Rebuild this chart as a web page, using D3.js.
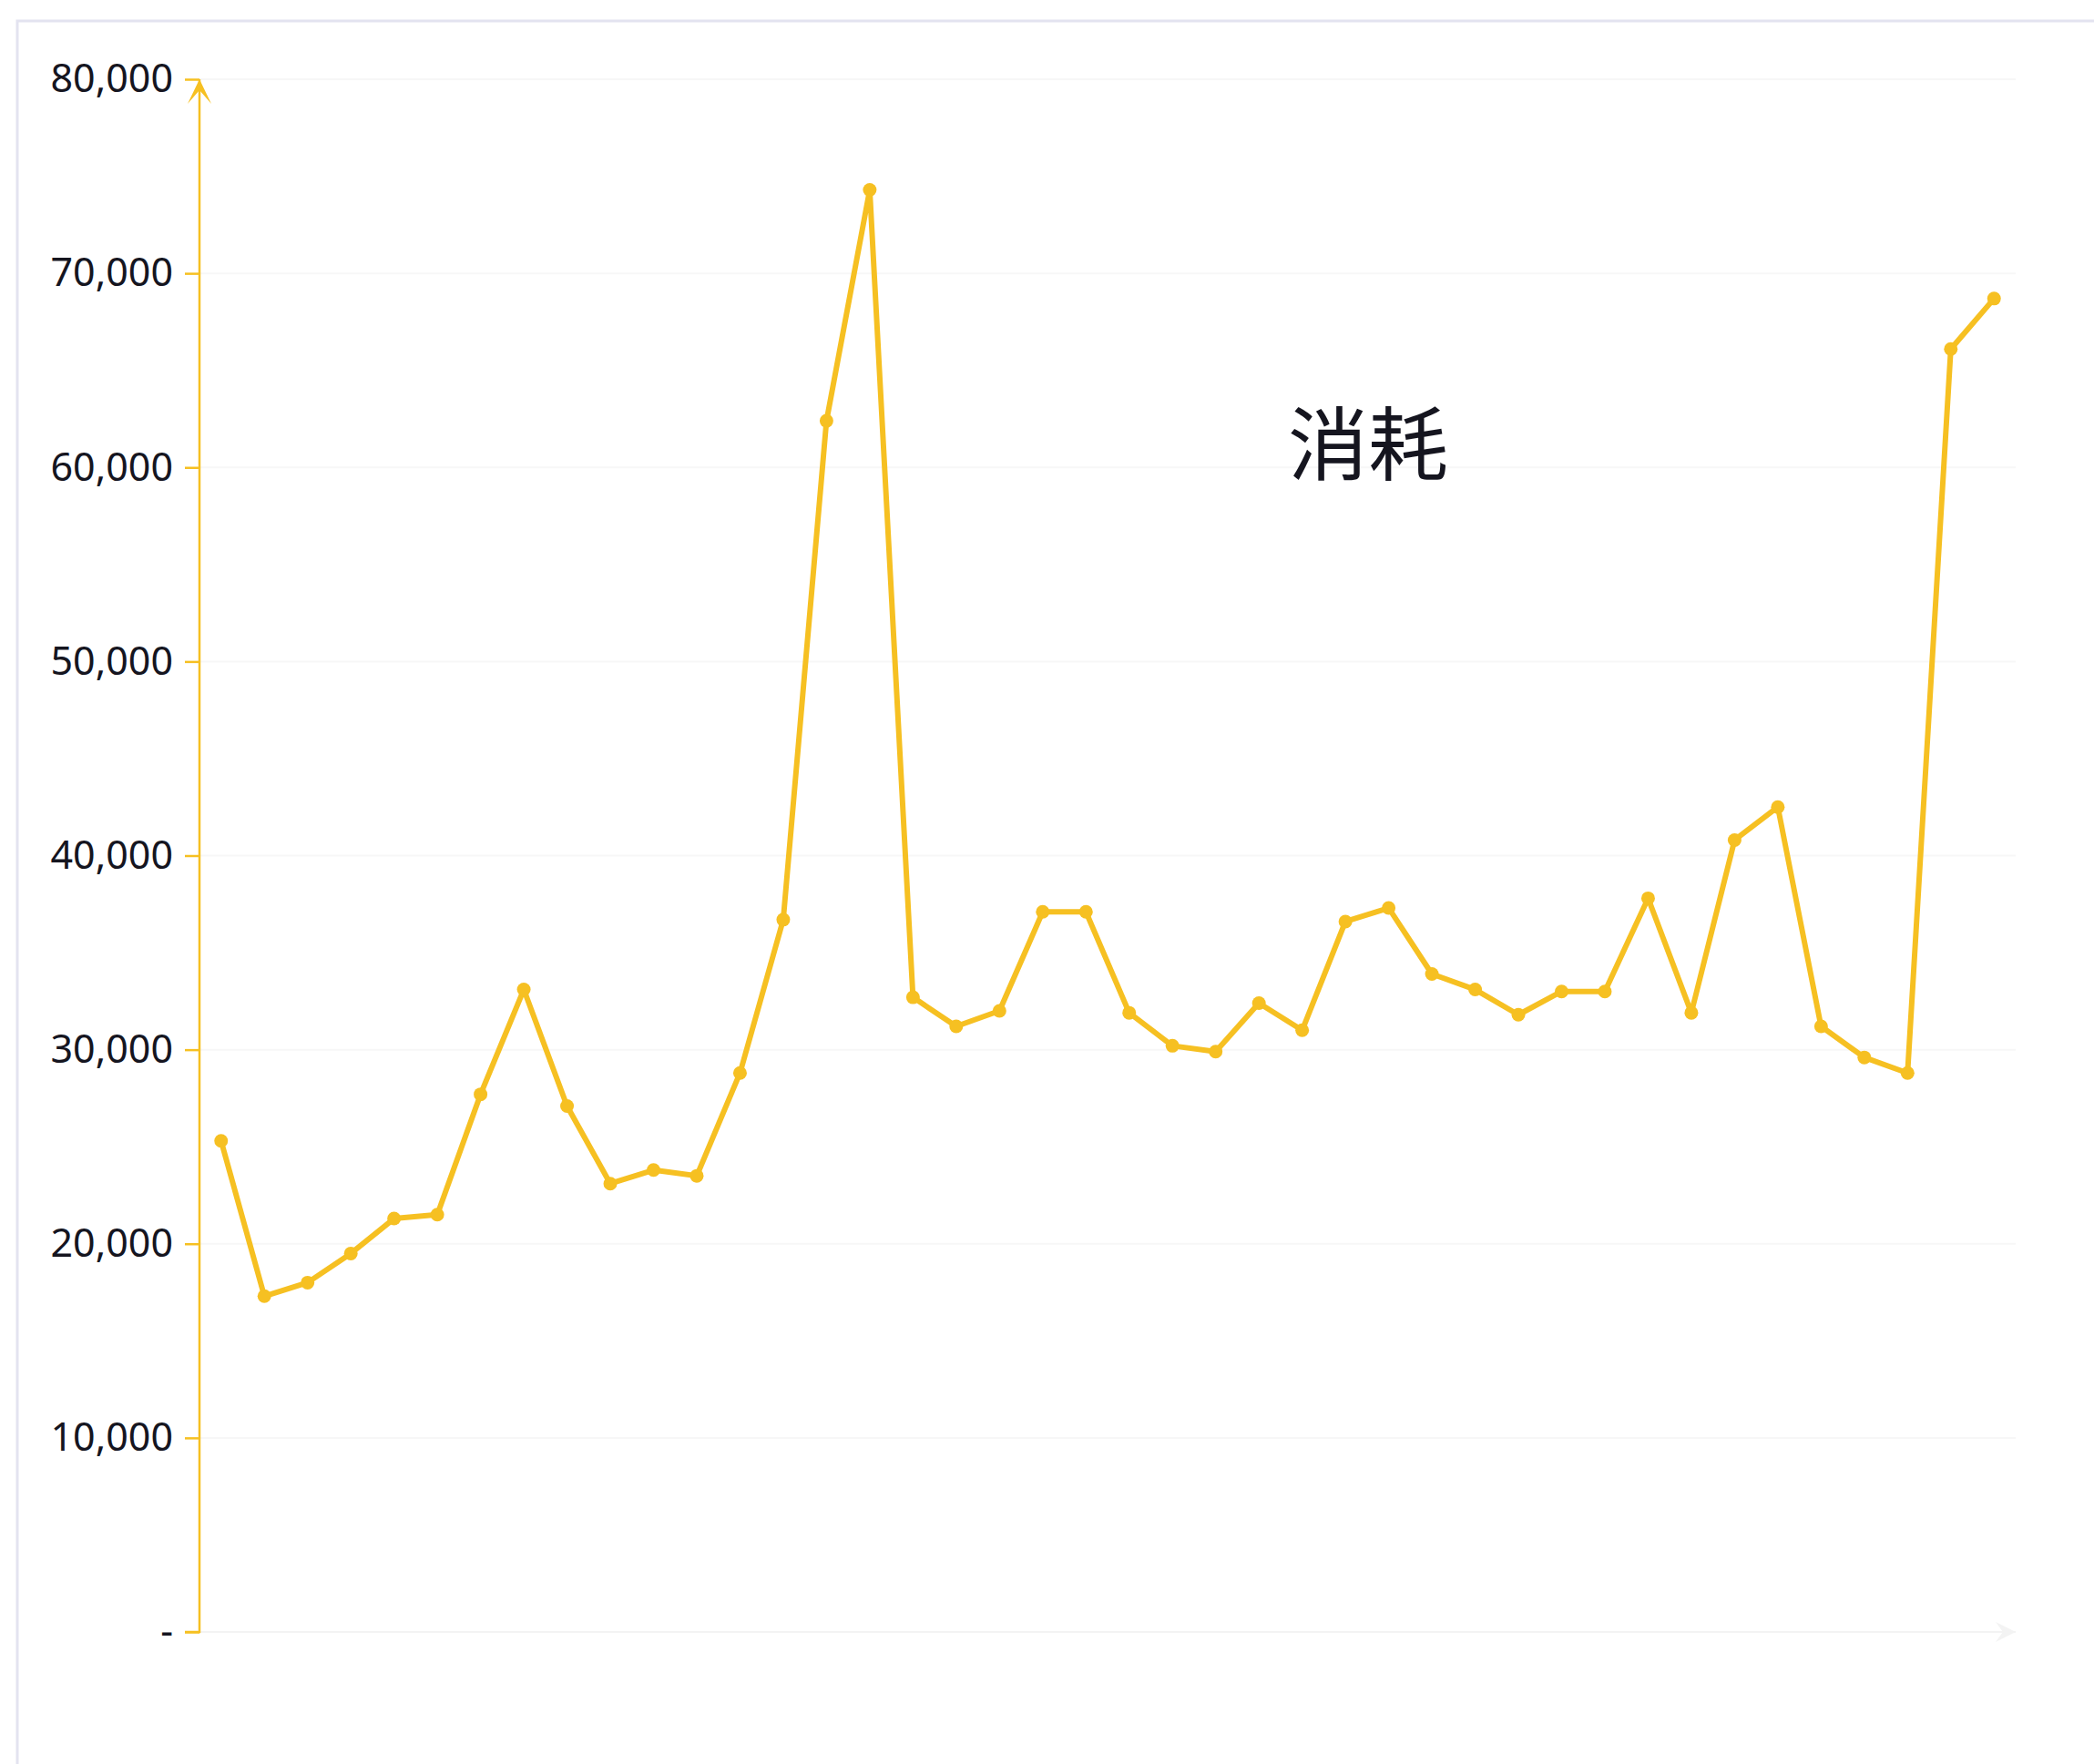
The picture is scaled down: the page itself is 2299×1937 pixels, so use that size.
<!DOCTYPE html>
<html>
<head>
<meta charset="utf-8">
<script src="https://cdn.jsdelivr.net/npm/d3@7"></script>
<style>
  html, body { margin: 0; padding: 0; background: #fff; }
  svg { display: block; }
</style>
</head>
<body>
<div id="chart"></div>
<script>
// series values (消耗), one per point
const consumption = [
  25300, 17300, 18000, 19500, 21300, 21500, 27700, 33100, 27100, 23100,
  23800, 23500, 28800, 36700, 62400, 74300, 32700, 31200, 32000, 37100,
  37100, 31900, 30200, 29900, 32400, 31000, 36600, 37300, 33900, 33100,
  31800, 33000, 33000, 37800, 31900, 40800, 42500, 31200, 29600, 28800,
  66100, 68700
]
// x categories (not labelled in the chart)
const categories = consumption.map((_, i) => i + 1)
const yTicks = [0, 10000, 20000, 30000, 40000, 50000, 60000, 70000, 80000]
const title = '消耗'

const W = 2299, H = 1937
const margin = { top: 87, right: 86, bottom: 145, left: 219 }
const width = W - margin.left - margin.right
const height = H - margin.top - margin.bottom
const yellow = '#f6c022'

const root = d3.select('#chart').append('svg')
  .attr('width', W)
  .attr('height', H)

// panel border (top + left only visible)
root.append('path')
  .attr('d', `M19,${H} V23 H${W}`)
  .attr('fill', 'none')
  .attr('stroke', '#e3e3f0')
  .attr('stroke-width', 3)

const svg = root.append('g')
  .attr('transform', `translate(${margin.left},${margin.top})`)

const x = d3.scaleBand()
  .domain(categories)
  .range([0, width])

const y = d3.scaleLinear()
  .domain([0, 80000])
  .range([height, 0])

// grid lines
svg.append('g')
  .selectAll('line')
  .data(yTicks.slice(1))
  .enter()
  .append('line')
  .attr('x1', 0)
  .attr('x2', width)
  .attr('y1', d => y(d))
  .attr('y2', d => y(d))
  .attr('stroke', '#f7f7f7')
  .attr('stroke-width', 2)

// x axis baseline with arrow
svg.append('line')
  .attr('x1', 0)
  .attr('x2', width)
  .attr('y1', height)
  .attr('y2', height)
  .attr('stroke', '#f3f3f3')
  .attr('stroke-width', 2)
svg.append('path')
  .attr('d', `M${width - 22},${height - 11} L${width},${height} L${width - 22},${height + 11} L${width - 14},${height} Z`)
  .attr('fill', '#f3f3f3')

// y axis
const yAxis = d3.axisLeft(y)
  .tickValues(yTicks)
  .tickSize(16)
  .tickPadding(13)
  .tickFormat(d => d === 0 ? '-' : d3.format(',')(d))

const gy = svg.append('g').call(yAxis)
gy.select('.domain').attr('stroke', yellow).attr('stroke-width', 2.5)
  .attr('d', `M-16,${height} H0 V0`)
gy.selectAll('.tick line').attr('stroke', yellow).attr('stroke-width', 2.5)
gy.selectAll('.tick text')
  .attr('fill', '#15151f')
  .style('font-family', '"Noto Sans", "Open Sans", sans-serif')
  .style('font-size', '43px')

// y axis arrow
svg.append('path')
  .attr('d', 'M-13,27 L0,0 L13,27 L0,12 Z')
  .attr('fill', yellow)

// line
const line = d3.line()
  .x((d, i) => x(categories[i]) + x.bandwidth() / 2)
  .y(d => y(d))

svg.append('path')
  .datum(consumption)
  .attr('fill', 'none')
  .attr('stroke', yellow)
  .attr('stroke-width', 6)
  .attr('stroke-linejoin', 'round')
  .attr('d', line)

svg.selectAll('circle')
  .data(consumption)
  .enter()
  .append('circle')
  .attr('cx', (d, i) => x(categories[i]) + x.bandwidth() / 2)
  .attr('cy', d => y(d))
  .attr('r', 7.5)
  .attr('fill', yellow)

// title
root.append('text')
  .attr('x', 1502)
  .attr('y', 520)
  .attr('text-anchor', 'middle')
  .attr('fill', '#15151f')
  .style('font-family', '"Noto Sans CJK SC", sans-serif')
  .style('font-size', '88px')
  .text(title)
</script>
</body>
</html>
